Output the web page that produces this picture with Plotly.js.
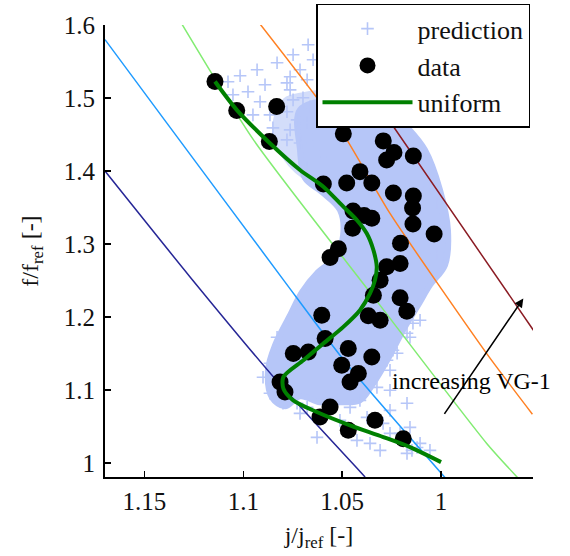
<!DOCTYPE html>
<html>
<head>
<meta charset="utf-8">
<script src="https://cdn.plot.ly/plotly-3.0.1.min.js"></script>
<style>html,body{margin:0;padding:0;background:#fff;}#chart{width:570px;height:556px;}</style>
</head>
<body>
<div id="chart"></div>
<script>
// ---- prediction cloud: dense core outline ----
const cloudX = [1.0713,1.0546,1.0308,1.0182,1.0081,1.0005,0.9965,0.9980,1.0056,1.0116,1.0192,1.0258,1.0349,1.0410,1.0511,1.0612,1.0713,1.0789,1.0855,1.0875,1.0839,1.0763,1.0703,1.0622,1.0536,1.0495,1.0511,1.0602,1.0688,1.0713,1.0713];
const cloudY = [1.4838,1.4975,1.4975,1.4632,1.4289,1.3741,1.3192,1.2712,1.2437,1.2163,1.1820,1.1477,1.1066,1.0860,1.0833,1.0833,1.0915,1.0778,1.0901,1.1272,1.1615,1.2026,1.2341,1.2616,1.2808,1.3123,1.3466,1.3713,1.3905,1.4289,1.4838];
// ---- prediction cloud: mixed (half-filled) upper zone ----
const mixX = [1.0713,1.0546,1.0546,1.0612,1.0688,1.0763,1.0824,1.0839,1.0789,1.0713];
const mixY = [1.5044,1.5044,1.4289,1.3809,1.3905,1.4084,1.4358,1.4701,1.4975,1.5044];
// ---- prediction: scattered crosses ----
const predX = [1.0672,1.0748,1.0829,1.0930,1.1016,1.1077,1.0890,1.0763,1.0677,1.0647,1.0713,1.0976,1.1052,1.0915,1.0763,1.0698,1.0951,1.0865,1.0779,1.0728,1.0850,1.0763,1.0677,1.0647,1.0713,1.0612,1.0779,1.0748,1.0779,1.0662,1.0677,
  1.0071,1.0056,1.0020,1.0005,1.0020,
  1.0142,1.0172,1.0243,1.0273,1.0324,1.0258,1.0410,1.0460,1.0526,1.0374,1.0293,1.0511,1.0425,1.0359,1.0258,1.0172,1.0121,1.0207,1.0258,1.0172,1.0157,1.0106,1.0308,1.0056,1.0147,1.0258,1.0222,1.0157,1.0106,
  1.0865,1.0900,1.0865,1.0728,1.0677,1.0779,1.0713,1.0627,1.0829,1.0748,1.0799];
const predY = [1.5730,1.5592,1.5483,1.5387,1.5304,1.5222,1.5181,1.5291,1.5250,1.5524,1.5387,1.5085,1.5044,1.4948,1.5112,1.5003,1.4769,1.4769,1.4811,1.4701,1.4591,1.4564,1.4660,1.4427,1.4385,1.4193,1.5208,1.4975,1.4427,1.4879,1.4056,
  1.4015,1.3782,1.3562,1.3329,1.2876,
  1.1916,1.1779,1.1546,1.1409,1.1038,1.0997,1.0860,1.0764,1.0819,1.0627,1.0545,1.0586,1.0311,1.0270,1.0407,1.0133,1.0215,1.0407,1.0723,1.0819,1.0490,1.0270,1.0174,1.0174,1.0174,1.1272,1.1505,1.1724,1.1957,
  1.1368,1.1176,1.0956,1.0819,1.0764,1.0860,1.0682,1.0353,1.1724,1.1999,1.0819];
// ---- measured data ----
const dataX = [1.1143,1.1033,1.0831,1.0868,1.0494,1.0292,1.0238,1.0275,1.0140,1.0410,1.0595,1.0477,1.0350,1.0241,1.0140,1.0144,1.0142,1.0445,1.0389,1.0350,1.0447,1.0035,1.0205,1.0519,1.0561,1.0275,1.0207,1.0308,1.0342,1.0207,1.0173,1.0603,1.0368,1.0308,1.0586,1.0747,1.0671,1.0469,1.0350,1.0502,1.0418,1.0460,1.0814,1.0789,1.0561,1.0612,1.0334,1.0469,1.0191];
const dataY = [1.5226,1.4829,1.4883,1.4403,1.4509,1.4413,1.4255,1.4152,1.4207,1.3992,1.3823,1.3837,1.3837,1.3700,1.3658,1.3494,1.3274,1.3453,1.3391,1.3353,1.3215,1.3137,1.3010,1.2936,1.2815,1.2689,1.2735,1.2506,1.2300,1.2266,1.2081,1.2026,1.2019,1.1957,1.1706,1.1501,1.1523,1.1569,1.1454,1.1340,1.1226,1.1111,1.1111,1.0974,1.0768,1.0631,1.0586,1.0449,1.0335];
// ---- uniform curve ----
const uniX = [1.1143,1.1033,1.0865,1.0713,1.0595,1.0494,1.0426,1.0376,1.0342,1.0325,1.0334,1.0359,1.0410,1.0494,1.0595,1.0696,1.0797,1.0797,1.0747,1.0628,1.0460,1.0292,1.0157,1.0000];
const uniY = [1.5226,1.4838,1.4381,1.4015,1.3786,1.3512,1.3329,1.3147,1.2918,1.2689,1.2506,1.2324,1.2095,1.1866,1.1638,1.1409,1.1180,1.1021,1.0860,1.0700,1.0517,1.0357,1.0219,1.0014];
// ---- constant VG lines ----
const vg1X = [1.1699,1.1269,1.0831,1.0384];
const vg1Y = [1.400,1.255,1.113,0.981];
const vg2X = [1.1699,1.1387,1.0797,1.0477,0.9976];
const vg2Y = [1.580,1.466,1.251,1.136,0.979];
const vg3X = [1.1314,1.0949,1.0342,0.9769,0.9609];
const vg3Y = [1.603,1.443,1.228,1.027,0.979];
const vg4X = [1.0920,1.0502,1.0258,0.9769,0.9538];
const vg4Y = [1.603,1.454,1.342,1.150,1.067];
const vg5X = [1.0594,1.0241,0.9533];
const vg5Y = [1.600,1.461,1.182];
const vgColors = ['#262696','#1f9bff','#82ec72','#ff8022','#8b1c24'];
// ---- ticks / labels ----
const xTickVals = [1.15,1.1,1.05,1];
const xTickText = ['1.15','1.1','1.05','1'];
const yTickVals = [1,1.1,1.2,1.3,1.4,1.5,1.6];
const yTickText = ['1','1.1','1.2','1.3','1.4','1.5','1.6'];
const arrowTail = [0.9988,1.0654];
const arrowHead = [0.9584,1.2255];

const serif = '"Liberation Serif", "Times New Roman", serif';
const cloudColor = '#b6c6f8';
const mixColor = '#d3ddfa';

const traces = [
  {x: mixX, y: mixY, mode: 'lines', fill: 'toself', fillcolor: mixColor,
   line: {color: mixColor, width: 4, shape: 'spline'}, showlegend: false, hoverinfo: 'skip'},
  {x: cloudX, y: cloudY, mode: 'lines', fill: 'toself', fillcolor: cloudColor,
   line: {color: cloudColor, width: 6, shape: 'spline'}, showlegend: false, hoverinfo: 'skip'},
  {x: predX, y: predY, mode: 'markers', name: 'prediction',
   marker: {symbol: 'cross-thin-open', size: 9, color: cloudColor, line: {color: cloudColor, width: 1.6}}}
];
[[vg1X,vg1Y],[vg2X,vg2Y],[vg3X,vg3Y],[vg4X,vg4Y],[vg5X,vg5Y]].forEach((p,i)=>{
  traces.push({x: p[0], y: p[1], mode: 'lines', line: {color: vgColors[i], width: 1.5, shape: 'spline', smoothing: 0.6}, showlegend: false, hoverinfo: 'skip'});
});
traces.push({x: dataX, y: dataY, mode: 'markers', name: 'data',
  marker: {symbol: 'circle', size: 17, color: '#000000'}});
traces.push({x: uniX, y: uniY, mode: 'lines', name: 'uniform',
  line: {color: '#008000', width: 4, shape: 'spline', smoothing: 0.8}});

const layout = {
  width: 570, height: 556,
  margin: {l: 105, r: 37, t: 25, b: 79, autoexpand: false},
  paper_bgcolor: '#ffffff', plot_bgcolor: '#ffffff',
  font: {family: serif, size: 24, color: '#111'},
  xaxis: {range: [1.1699, 0.9535], showgrid: false, zeroline: false, automargin: false,
    showline: true, linecolor: '#000', linewidth: 2, ticks: 'inside', ticklen: 6, tickwidth: 1.5, tickcolor: '#000',
    tickvals: xTickVals, ticktext: xTickText, tickfont: {family: serif, size: 25, color: '#111'},
    ticklabelstandoff: 1,
    title: {text: 'j/j<sub>ref</sub> [-]', font: {family: serif, size: 24, color: '#111'}, standoff: 12}},
  yaxis: {range: [0.981, 1.6], showgrid: false, zeroline: false, automargin: false,
    showline: true, linecolor: '#000', linewidth: 2, ticks: 'inside', ticklen: 6, tickwidth: 1.5, tickcolor: '#000',
    tickvals: yTickVals, ticktext: yTickText, tickfont: {family: serif, size: 25, color: '#111'},
    ticklabelstandoff: 3,
    title: {text: 'f/f<sub>ref</sub> [-]', font: {family: serif, size: 24, color: '#111'}, standoff: 18}},
  legend: {x: 0.493, y: 1.047, xanchor: 'left', yanchor: 'top', bgcolor: '#ffffff',
    bordercolor: '#000', borderwidth: 1.5, itemwidth: 90,
    font: {family: serif, size: 26, color: '#111'}},
  annotations: [
    {x: arrowHead[0], y: arrowHead[1], ax: arrowTail[0], ay: arrowTail[1], xref: 'x', yref: 'y', axref: 'x', ayref: 'y',
     text: '', showarrow: true, arrowhead: 2, arrowsize: 1.1, arrowwidth: 1.6, arrowcolor: '#000'},
    {x: 0.9845, y: 1.1121, xref: 'x', yref: 'y', text: 'increasing VG-1', showarrow: false,
     font: {family: serif, size: 24, color: '#000'}}
  ]
};

Plotly.newPlot('chart', traces, layout, {staticPlot: true, displayModeBar: false});
</script>
</body>
</html>
